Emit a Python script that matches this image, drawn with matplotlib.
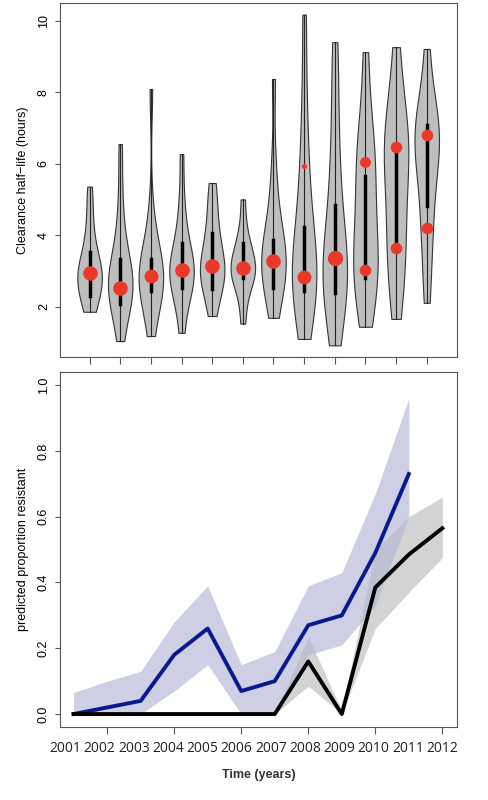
import numpy as np
import matplotlib
matplotlib.use("Agg")
import matplotlib.pyplot as plt

plt.rcParams['font.family'] = ['Liberation Sans', 'DejaVu Sans']

years = [str(y) for y in range(2001, 2013)]

# clearance half-life samples per year (hours)
halflife = [
    [1.86, 2.0, 2.2, 2.4, 2.6, 2.7, 2.8, 2.9, 3.0, 3.1, 3.3, 3.5, 3.8, 4.2, 4.8, 5.36],
    [1.04, 1.6, 2.0, 2.2, 2.4, 2.5, 2.6, 2.7, 2.9, 3.1, 3.3, 3.7, 4.2, 5.2, 6.55],
    [1.18, 1.8, 2.3, 2.5, 2.6, 2.7, 2.8, 2.9, 3.0, 3.2, 3.4, 3.8, 4.6, 8.09],
    [1.27, 2.0, 2.4, 2.6, 2.8, 2.9, 3.0, 3.1, 3.3, 3.5, 3.8, 4.3, 5.0, 6.27],
    [1.74, 2.2, 2.5, 2.7, 2.9, 3.0, 3.1, 3.3, 3.5, 3.8, 4.1, 4.5, 5.0, 5.46],
    [1.53, 2.2, 2.6, 2.8, 2.9, 3.0, 3.1, 3.2, 3.4, 3.6, 3.8, 4.2, 5.0],
    [1.69, 2.3, 2.6, 2.8, 3.0, 3.2, 3.3, 3.5, 3.7, 3.9, 4.3, 5.0, 6.0, 8.37],
    [1.10, 1.9, 2.3, 2.5, 2.7, 2.8, 3.0, 3.3, 3.7, 4.2, 4.8, 5.6, 6.5, 8.0, 10.17],
    [0.92, 1.8, 2.2, 2.5, 2.8, 3.0, 3.3, 3.6, 4.0, 4.8, 5.6, 6.6, 8.0, 9.40],
    [1.44, 2.2, 2.6, 2.9, 3.2, 3.6, 4.0, 4.6, 5.2, 5.8, 6.2, 6.6, 7.4, 9.12],
    [1.66, 2.6, 3.2, 3.6, 4.2, 4.8, 5.4, 5.9, 6.3, 6.6, 6.9, 7.3, 8.0, 9.26],
    [2.11, 3.2, 4.0, 4.6, 5.2, 5.8, 6.2, 6.5, 6.7, 6.9, 7.1, 7.4, 7.9, 9.21],
]
q1 = [2.30, 2.07, 2.44, 2.53, 2.50, 2.81, 2.53, 2.44, 2.39, 2.81, 3.61, 4.82]
q3 = [3.54, 3.33, 3.33, 3.79, 4.05, 3.77, 3.87, 4.23, 4.84, 5.66, 6.36, 7.07]
# cluster means (red dots): year index, value, relative size
dot_year = [1, 2, 3, 4, 5, 6, 7, 8, 8, 9, 10, 10, 11, 11, 12, 12]
dot_val = [2.93, 2.53, 2.86, 3.02, 3.14, 3.07, 3.28, 2.84, 5.94, 3.35, 3.02, 6.06, 3.63, 6.48, 4.21, 6.81]
dot_size = [10, 10, 9.5, 10, 10, 10, 10, 9.5, 3.5, 10.5, 8, 7.5, 8, 8, 8, 8]

# predicted proportion resistant
t_blue = list(range(11))
blue = [0.0, 0.02, 0.04, 0.18, 0.26, 0.07, 0.10, 0.27, 0.30, 0.49, 0.73]
blue_lo = [0.0, 0.0, 0.0, 0.07, 0.15, 0.0, 0.0, 0.18, 0.21, 0.33, 0.60]
blue_hi = [0.065, 0.10, 0.13, 0.28, 0.39, 0.15, 0.19, 0.39, 0.43, 0.67, 0.96]
t_black = list(range(12))
black = [0, 0, 0, 0, 0, 0, 0, 0.16, 0.0, 0.385, 0.485, 0.565]
black_lo = [0, 0, 0, 0, 0, 0, 0, 0.085, 0.0, 0.26, 0.37, 0.475]
black_hi = [0, 0, 0, 0, 0, 0, 0, 0.235, 0.01, 0.50, 0.60, 0.66]

fig = plt.figure(figsize=(4.88, 8), dpi=100)
ax1 = fig.add_axes([0.122, 0.554, 0.814, 0.4425])
ax2 = fig.add_axes([0.122, 0.091, 0.814, 0.444])

pos = np.arange(1, 13)
vp = ax1.violinplot(halflife, positions=pos, widths=0.8, showextrema=False, bw_method=0.5)
for b in vp['bodies']:
    b.set_facecolor('#bebebe')
    b.set_edgecolor('#333333')
    b.set_linewidth(0.8)
    b.set_alpha(1)
for i, d in enumerate(halflife):
    ax1.plot([pos[i], pos[i]], [min(d), max(d)], color='#222222', lw=0.8, zorder=3)
    ax1.plot([pos[i], pos[i]], [q1[i], q3[i]], color='black', lw=2.5, zorder=3)
for y, v, s in zip(dot_year, dot_val, dot_size):
    ax1.plot(y, v, 'o', ms=s * 1.05, color='#e8392a', mec='none', zorder=4)
ax1.set_xlim(0.02, 12.98)
ax1.set_ylim(0.6, 10.5)
ax1.set_xticks(pos)
ax1.set_xticklabels([])
ax1.set_yticks([2, 4, 6, 8, 10])
ax1.set_ylabel('Clearance half\u2212life (hours)', fontsize=9, labelpad=6)

ax2.fill_between(t_black, black_lo, black_hi, color='#c8c8c8', alpha=0.8, lw=0)
ax2.fill_between(t_blue, blue_lo, blue_hi, color='#b4b6d6', alpha=0.65, lw=0)
ax2.plot(t_blue, blue, color='#0a1a8c', lw=2.8)
ax2.plot(t_black, black, color='black', lw=2.8)
ax2.set_xlim(-0.42, 11.43)
ax2.set_ylim(-0.04, 1.04)
ax2.set_xticks([1, 3, 5, 7, 9, 11])
ax2.set_xticklabels([])
ax2.set_yticks([0, 0.2, 0.4, 0.6, 0.8, 1.0])
ax2.set_yticklabels(['0.0', '0.2', '0.4', '0.6', '0.8', '1.0'])
ax2.set_ylabel('predicted proportion resistant', fontsize=9, labelpad=6)
for x, lab in zip(np.linspace(-0.25, 11.0, 12), years):
    ax2.text(x, -0.06, lab, transform=ax2.get_xaxis_transform(), ha='center', va='center',
             fontsize=10, family='Open Sans', color='#222222')
fig.text(0.53, 0.031, 'Time (years)', ha='center', va='center', fontsize=9, fontweight='bold',
         color='#333333')

for ax in (ax1, ax2):
    for sp in ax.spines.values():
        sp.set_color('#555555')
    ax.tick_params(axis='y', labelsize=9, labelrotation=90, color='#555555')
    ax.tick_params(axis='x', color='#555555', length=5)
    for lab in ax.get_yticklabels():
        lab.set_va('center')

fig.savefig('out.png', dpi=100)
